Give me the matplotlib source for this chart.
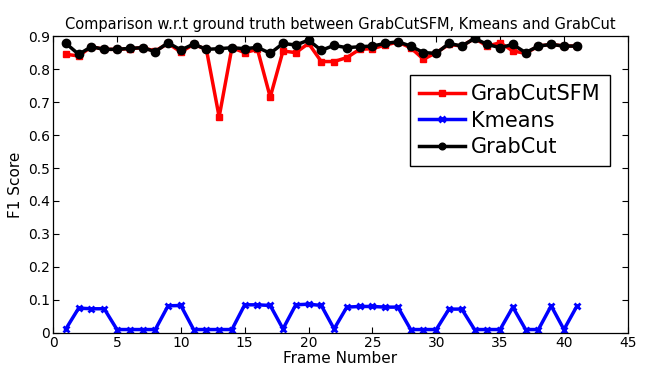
import matplotlib.pyplot as plt
import numpy as np

frames = np.arange(1, 42)

grabcut_sfm = [0.845, 0.84, 0.868, 0.86, 0.86, 0.862, 0.865, 0.855, 0.878, 0.852,
               0.875, 0.86, 0.655, 0.865, 0.85, 0.86, 0.715, 0.855, 0.85, 0.878,
               0.823, 0.823, 0.835, 0.86, 0.862, 0.873, 0.882, 0.865, 0.83, 0.85,
               0.875, 0.87, 0.893, 0.87, 0.88, 0.855, 0.848, 0.87, 0.875, 0.87, 0.87]

kmeans = [0.012, 0.075, 0.073, 0.073, 0.01, 0.01, 0.01, 0.01, 0.082, 0.083,
          0.01, 0.01, 0.01, 0.01, 0.085, 0.085, 0.083, 0.012, 0.085, 0.087,
          0.083, 0.012, 0.078, 0.08, 0.08, 0.078, 0.078, 0.01, 0.01, 0.01,
          0.072, 0.072, 0.01, 0.01, 0.01, 0.078, 0.01, 0.01, 0.082, 0.01, 0.08]

grabcut = [0.878, 0.845, 0.868, 0.86, 0.86, 0.863, 0.865, 0.853, 0.88, 0.858,
           0.876, 0.86, 0.862, 0.865, 0.862, 0.866, 0.848, 0.878, 0.873, 0.888,
           0.857, 0.872, 0.865, 0.868, 0.87, 0.878, 0.883, 0.87, 0.85, 0.848,
           0.878, 0.87, 0.893, 0.875, 0.865, 0.875, 0.85, 0.87, 0.875, 0.87, 0.87]

fig = plt.figure(figsize=(6.56, 3.69), dpi=100)
ax = fig.add_axes([0.081, 0.098, 0.876, 0.804])

# draw order: red, blue, then black on top
ax.plot(frames, grabcut_sfm, '-s', color='red', lw=2.5, ms=5, label='GrabCutSFM')
ax.plot(frames, kmeans, '-x', color='blue', lw=2.5, ms=5, mew=2, label='Kmeans')
ax.plot(frames, grabcut, '-o', color='black', lw=2.5, ms=6, label='GrabCut')

ax.set_xlim(0, 45)
ax.set_ylim(0, 0.9)
ax.set_xticks(np.arange(0, 46, 5))
ax.set_yticks(np.arange(0, 0.91, 0.1))
ax.set_yticklabels(['0', '0.1', '0.2', '0.3', '0.4', '0.5', '0.6', '0.7', '0.8', '0.9'])
ax.tick_params(direction='in', labelsize=10, top=True, right=True, length=4, pad=2)
for s in ax.spines.values():
    s.set_linewidth(0.9)

ax.set_xlabel('Frame Number', fontsize=11, labelpad=1)
ax.set_ylabel('F1 Score', fontsize=11)
ax.set_title('Comparison w.r.t ground truth between GrabCutSFM, Kmeans and GrabCut',
             fontsize=10.5, pad=5)

leg = ax.legend(loc='upper right', bbox_to_anchor=(0.969, 0.869), borderaxespad=0,
                fontsize=15, fancybox=False, edgecolor='black', framealpha=1,
                handlelength=2.2, handletextpad=0.3, borderpad=0.45, labelspacing=0.3,
                markerscale=0.8)
leg.get_frame().set_linewidth(1.0)

plt.savefig('out.png')
